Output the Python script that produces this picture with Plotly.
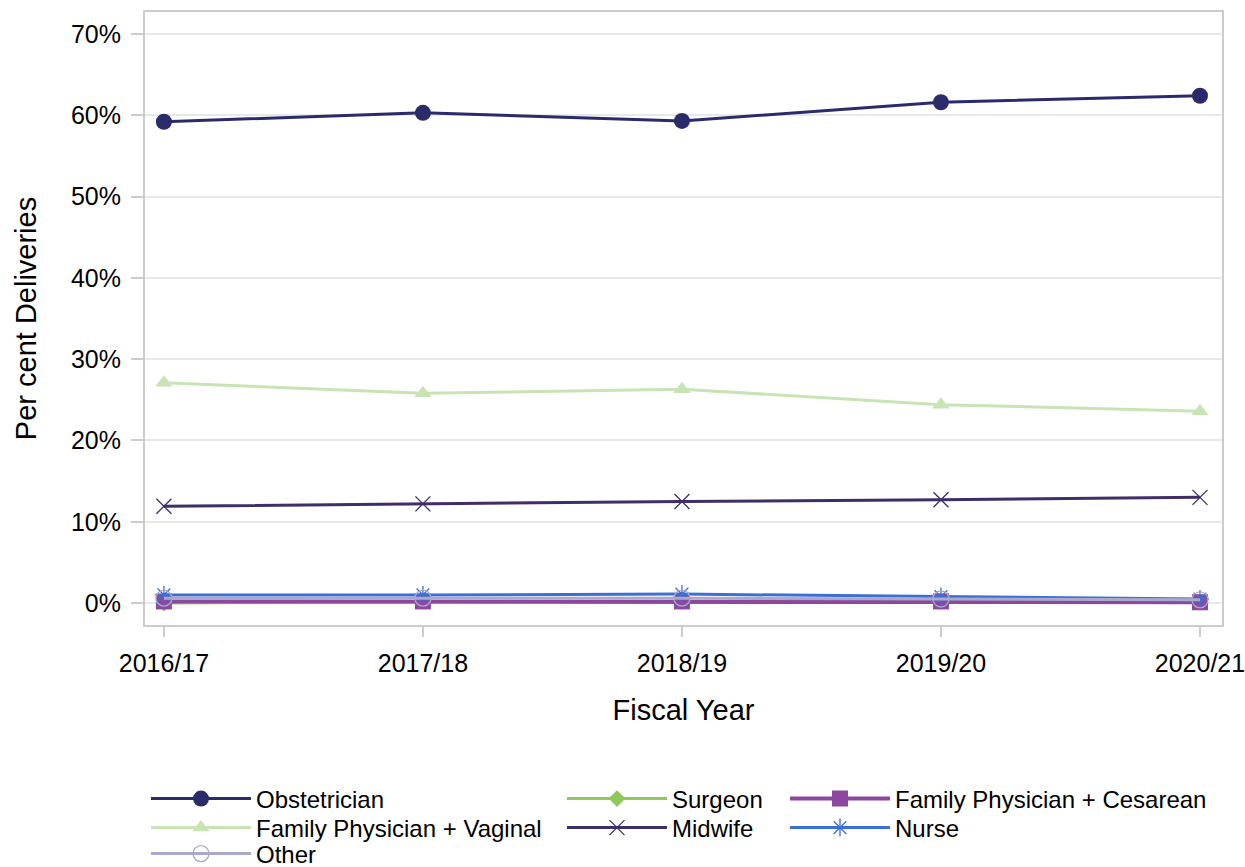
import plotly.graph_objects as go

years = ["2016/17", "2017/18", "2018/19", "2019/20", "2020/21"]

obstetrician = [59.2, 60.3, 59.3, 61.6, 62.4]
fp_vaginal = [27.1, 25.8, 26.3, 24.4, 23.6]
midwife = [11.9, 12.2, 12.5, 12.7, 13.0]
surgeon = [0.0, 0.2, 0.2, 0.2, 0.1]
fp_cesarean = [0.2, 0.2, 0.2, 0.2, 0.1]
nurse = [1.0, 1.0, 1.1, 0.8, 0.5]
other = [0.6, 0.6, 0.6, 0.5, 0.4]

y_ticks = [0, 10, 20, 30, 40, 50, 60, 70]
y_tick_labels = [f"{v}%" for v in y_ticks]

FONT = "Liberation Sans, Arial, sans-serif"

# Plot area in pixels (for placing the legend rows below it)
PLOT_TOP, PLOT_BOTTOM = 12, 625
PLOT_LEFT, PLOT_RIGHT = 145, 1222


def paper_x(px):
    return (px - PLOT_LEFT) / (PLOT_RIGHT - PLOT_LEFT)


def paper_y(py):
    return (PLOT_BOTTOM - py) / (PLOT_BOTTOM - PLOT_TOP)


# legend columns / rows (pixel positions of each entry)
col_x = [146, 562, 785]
row_y = [799, 828, 854]

# name, values, colour, line width, marker symbol, marker size, (column, row)
series = [
    ("Obstetrician", obstetrician, "#2b2b6b", 3, "circle", 16, (0, 0)),
    ("Family Physician + Vaginal", fp_vaginal, "#c9e4b4", 3, "triangle-up", 15, (0, 1)),
    ("Midwife", midwife, "#3e2f66", 3, "x-thin-open", 15, (1, 1)),
    ("Surgeon", surgeon, "#8fc95e", 3, "diamond", 13, (1, 0)),
    ("Family Physician + Cesarean", fp_cesarean, "#8e479e", 4, "square", 16, (2, 0)),
    ("Nurse", nurse, "#3a6fd3", 3, "asterisk-open", 15, (2, 1)),
    ("Other", other, "#a9a9cb", 3, "circle-open", 16, (0, 2)),
]

fig = go.Figure()
legends = {}
for i, (name, vals, color, lw, sym, size, (c, r)) in enumerate(series):
    marker = dict(symbol=sym, size=size, color=color)
    if sym.endswith("open"):
        marker["line"] = dict(color=color, width=1.3)
    leg = "legend" if i == 0 else f"legend{i + 1}"
    fig.add_trace(go.Scatter(
        x=years, y=vals, name=name, mode="lines+markers",
        line=dict(color=color, width=lw),
        marker=marker, legend=leg,
    ))
    legends[leg] = dict(
        orientation="v", yanchor="middle", y=paper_y(row_y[r]),
        xanchor="left", x=paper_x(col_x[c]),
        font=dict(family=FONT, size=24, color="#000000"),
        itemwidth=100, bgcolor="rgba(0,0,0,0)",
    )

fig.update_layout(
    width=1245, height=867,
    margin=dict(l=PLOT_LEFT, r=1245 - PLOT_RIGHT, t=PLOT_TOP, b=867 - PLOT_BOTTOM,
                autoexpand=False),
    paper_bgcolor="white", plot_bgcolor="white",
    font=dict(family=FONT, size=24, color="#000000"),
    showlegend=True,
    xaxis=dict(
        type="category", range=[-0.073, 4.085],
        showgrid=False, showline=True, linecolor="#cccccc", linewidth=2, mirror=True,
        ticks="outside", ticklen=10, tickwidth=2, tickcolor="#cccccc",
        tickfont=dict(family=FONT, size=25), ticklabelstandoff=5,
        title=dict(text="Fiscal Year", font=dict(family=FONT, size=29), standoff=24),
        zeroline=False,
    ),
    yaxis=dict(
        range=[-2.7, 72.7], tickvals=y_ticks, ticktext=y_tick_labels,
        showgrid=True, gridcolor="#e8e8e8", gridwidth=2,
        showline=True, linecolor="#cccccc", linewidth=2, mirror=True,
        ticks="outside", ticklen=12, tickwidth=2, tickcolor="#cccccc",
        tickfont=dict(family=FONT, size=25), ticklabelstandoff=5,
        title=dict(text="Per cent Deliveries", font=dict(family=FONT, size=29), standoff=26),
        zeroline=False,
    ),
)
fig.update_layout(**legends)

fig.write_html("out.html")
